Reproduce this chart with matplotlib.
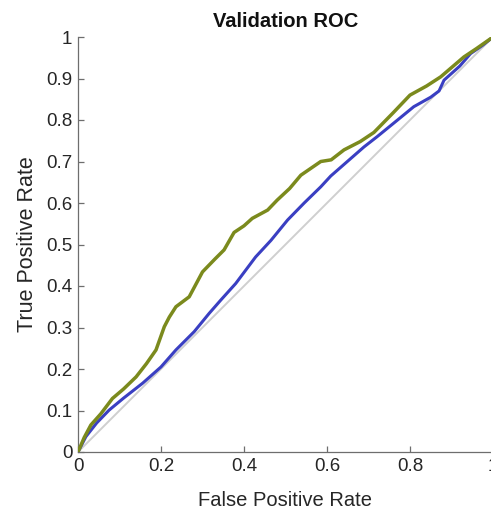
import matplotlib
matplotlib.use("Agg")
import matplotlib.pyplot as plt

green_fpr = [0, 0.015, 0.031, 0.055, 0.083, 0.11, 0.14, 0.165, 0.188, 0.208, 0.22, 0.236, 0.268, 0.30, 0.33, 0.352,
             0.376, 0.40, 0.42, 0.457, 0.48, 0.51, 0.537, 0.585, 0.61, 0.641, 0.68, 0.713, 0.76, 0.80, 0.84, 0.874,
             0.93, 0.96, 1.0]
green_tpr = [0, 0.035, 0.065, 0.092, 0.129, 0.152, 0.181, 0.213, 0.246, 0.302, 0.325, 0.350, 0.374, 0.434, 0.465, 0.487,
             0.529, 0.545, 0.563, 0.583, 0.607, 0.635, 0.667, 0.70, 0.704, 0.728, 0.748, 0.77, 0.818, 0.86, 0.882, 0.904,
             0.952, 0.972, 1.0]

blue_fpr = [0, 0.019, 0.045, 0.075, 0.11, 0.156, 0.20, 0.236, 0.28, 0.316, 0.344, 0.38, 0.428, 0.465, 0.505, 0.545,
            0.585, 0.609, 0.649, 0.689, 0.721, 0.77, 0.809, 0.85, 0.87, 0.882, 0.92, 0.946, 0.975, 1.0]
blue_tpr = [0, 0.037, 0.07, 0.101, 0.13, 0.166, 0.205, 0.246, 0.29, 0.334, 0.366, 0.406, 0.47, 0.51, 0.559, 0.60,
            0.639, 0.665, 0.70, 0.735, 0.76, 0.80, 0.832, 0.855, 0.87, 0.896, 0.93, 0.96, 0.98, 1.0]

chance = [0, 1]

title = "Validation ROC"
xlabel = "False Positive Rate"
ylabel = "True Positive Rate"
xticks = [0, 0.2, 0.4, 0.6, 0.8, 1]
xticklabels = ["0", "0.2", "0.4", "0.6", "0.8", "1"]
yticks = [0, 0.1, 0.2, 0.3, 0.4, 0.5, 0.6, 0.7, 0.8, 0.9, 1]
yticklabels = ["0", "0.1", "0.2", "0.3", "0.4", "0.5", "0.6", "0.7", "0.8", "0.9", "1"]

plt.rcParams['font.family'] = ['Liberation Sans', 'DejaVu Sans']

W, H = 491, 512
fig = plt.figure(figsize=(W / 100, H / 100), dpi=100)
x0, x1 = 78, 493
y0, y1 = 452, 37
ax = fig.add_axes([x0 / W, 1 - y0 / H, (x1 - x0) / W, (y0 - y1) / H])

ax.plot(chance, chance, color='#cfcfcf', lw=1.4, zorder=1)
ax.plot(blue_fpr, blue_tpr, color='#3a3fc2', lw=2.2, zorder=2, solid_joinstyle='round')
ax.plot(green_fpr, green_tpr, color='#7b8a1d', lw=2.5, zorder=3, solid_joinstyle='round')

ax.set_xlim(0, 1)
ax.set_ylim(0, 1)
ax.set_xticks(xticks)
ax.set_xticklabels(xticklabels)
ax.set_yticks(yticks)
ax.set_yticklabels(yticklabels)

for s in ['top', 'right']:
    ax.spines[s].set_visible(False)
for s in ['left', 'bottom']:
    ax.spines[s].set_color('#6e6e6e')
    ax.spines[s].set_linewidth(0.9)

ax.tick_params(direction='in', length=4, width=0.9, color='#6e6e6e',
               labelsize=13.5, labelcolor='#262626', pad=4)

ax.set_xlabel(xlabel, fontsize=14.5, color='#262626', labelpad=12)
ax.set_ylabel(ylabel, fontsize=15.5, color='#262626', labelpad=6)
ax.set_title(title, fontsize=14.5, fontweight='bold', color='#111111', pad=7)

fig.savefig("out.png", dpi=100)
